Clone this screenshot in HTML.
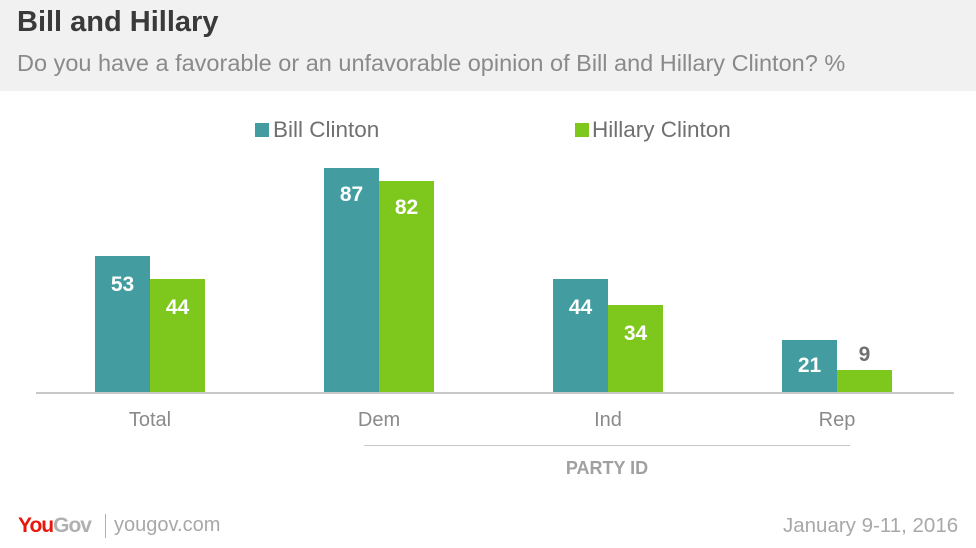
<!DOCTYPE html>
<html><head><style>
body{margin:0;width:976px;height:548px;background:#fff;font-family:"Liberation Sans",sans-serif;position:relative;overflow:hidden}
.a{position:absolute;white-space:nowrap}
.hdr{left:0;top:0;width:976px;height:91px;background:#f1f1f1}
.b{position:absolute;background:#429ca0}
.g{position:absolute;background:#7ec81e}
.v{position:absolute;width:55px;text-align:center;color:#fff;font-weight:bold;font-size:21px}
.x{position:absolute;width:110px;text-align:center;color:#8a8a8a;font-size:20px;top:409px}
</style></head><body>
<div class="a hdr"></div>
<div class="a" style="left:17px;top:6px;font-size:29px;font-weight:bold;color:#3a3a3a">Bill and Hillary</div>
<div class="a" style="left:17px;top:50px;font-size:23.5px;color:#8a8a8a">Do you have a favorable or an unfavorable opinion of Bill and Hillary Clinton? %</div>

<div class="a" style="left:255px;top:123px;width:14px;height:14px;background:#429ca0"></div>
<div class="a" style="left:273px;top:117px;font-size:22.5px;color:#707070">Bill Clinton</div>
<div class="a" style="left:575px;top:123px;width:14px;height:14px;background:#7ec81e"></div>
<div class="a" style="left:592px;top:117px;font-size:22.5px;color:#707070">Hillary Clinton</div>

<div class="b" style="left:95px;top:256px;width:55px;height:137px"></div>
<div class="g" style="left:150px;top:279px;width:55px;height:114px"></div>
<div class="b" style="left:324px;top:168px;width:55px;height:225px"></div>
<div class="g" style="left:379px;top:181px;width:55px;height:212px"></div>
<div class="b" style="left:553px;top:279px;width:55px;height:114px"></div>
<div class="g" style="left:608px;top:305px;width:55px;height:88px"></div>
<div class="b" style="left:782px;top:340px;width:55px;height:53px"></div>
<div class="g" style="left:837px;top:370px;width:55px;height:23px"></div>

<div class="v" style="left:95px;top:273px">53</div>
<div class="v" style="left:150px;top:296px">44</div>
<div class="v" style="left:324px;top:183px">87</div>
<div class="v" style="left:379px;top:196px">82</div>
<div class="v" style="left:553px;top:296px">44</div>
<div class="v" style="left:608px;top:322px">34</div>
<div class="v" style="left:782px;top:354px">21</div>
<div class="v" style="left:837px;top:343px;color:#707070">9</div>

<div class="a" style="left:36px;top:392px;width:918px;height:2px;background:#c8c8c8"></div>
<div class="x" style="left:95px">Total</div>
<div class="x" style="left:324px">Dem</div>
<div class="x" style="left:553px">Ind</div>
<div class="x" style="left:782px">Rep</div>
<div class="a" style="left:364px;top:445px;width:486px;height:1px;background:#c8c8c8"></div>
<div class="a" style="left:364px;top:458px;width:486px;text-align:center;font-size:18px;font-weight:bold;color:#a0a0a0">PARTY ID</div>

<div class="a" style="left:18px;top:514px;font-size:21px;font-weight:bold;letter-spacing:-1px"><span style="color:#e8160c">You</span><span style="color:#b0b0b0">Gov</span></div>
<div class="a" style="left:105px;top:514px;width:1px;height:24px;background:#b0b0b0"></div>
<div class="a" style="left:114px;top:514px;font-size:20px;color:#a8a8a8">yougov.com</div>
<div class="a" style="left:783px;top:514px;font-size:20.5px;color:#a8a8a8">January 9-11, 2016</div>
</body></html>
